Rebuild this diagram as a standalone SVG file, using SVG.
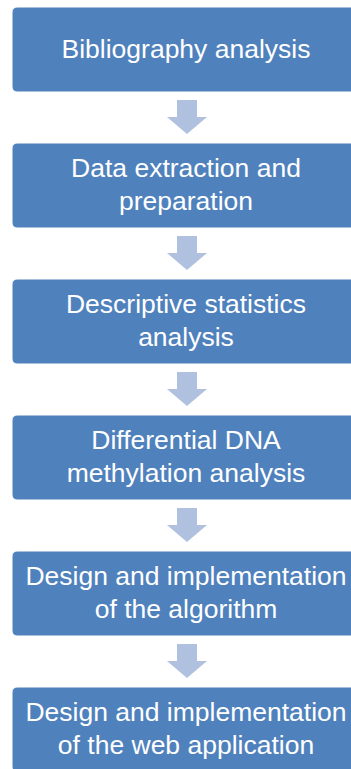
<svg xmlns="http://www.w3.org/2000/svg" width="351" height="769" viewBox="0 0 351 769">
<style>
.box{fill:#4F81BD;stroke:#ffffff;stroke-width:1}
.t{font-family:"Liberation Sans",Arial,sans-serif;font-size:26.5px;fill:#ffffff;text-anchor:middle}
.arr{fill:#B0C1DF}
</style>
<rect width="351" height="769" fill="#ffffff"/>
<g id="connectors">
<path class="arr" d="M177,100H197V117H207L187,134L167,117H177Z"/>
<path class="arr" d="M177,236H197V253H207L187,270L167,253H177Z"/>
<path class="arr" d="M177,372H197V389H207L187,406L167,389H177Z"/>
<path class="arr" d="M177,508H197V525H207L187,542L167,525H177Z"/>
<path class="arr" d="M177,644H197V661H207L187,678L167,661H177Z"/>
</g>
<g id="n1"><rect class="box" x="12" y="7" width="350" height="85" rx="5"/><text class="t" x="186" y="58">Bibliography analysis</text></g>
<g id="n2"><rect class="box" x="12" y="143" width="350" height="85" rx="5"/><text class="t" x="186" y="177">Data extraction and</text><text class="t" x="186" y="210">preparation</text></g>
<g id="n3"><rect class="box" x="12" y="279" width="350" height="85" rx="5"/><text class="t" x="186" y="313">Descriptive statistics</text><text class="t" x="186" y="346">analysis</text></g>
<g id="n4"><rect class="box" x="12" y="415" width="350" height="85" rx="5"/><text class="t" x="186" y="449">Differential DNA</text><text class="t" x="186" y="482">methylation analysis</text></g>
<g id="n5"><rect class="box" x="12" y="551" width="350" height="85" rx="5"/><text class="t" x="186" y="585">Design and implementation</text><text class="t" x="186" y="618">of the algorithm</text></g>
<g id="n6"><rect class="box" x="12" y="687" width="350" height="85" rx="5"/><text class="t" x="186" y="721">Design and implementation</text><text class="t" x="186" y="754">of the web application</text></g>
</svg>
